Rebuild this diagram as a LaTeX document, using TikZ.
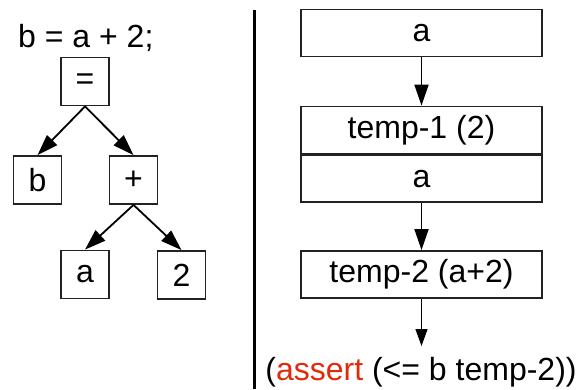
\documentclass[tikz,border=0pt]{standalone}
\usepackage{fontspec}
\setmainfont{Liberation Sans}
\usetikzlibrary{arrows.meta}
\definecolor{kwred}{HTML}{E02A0A}
\definecolor{edge}{HTML}{222222}
\tikzset{
  treebox/.style={draw=edge, line width=1.8pt, minimum width=48pt, minimum height=48pt, inner sep=0pt},
  flowbox/.style={draw=edge, line width=1.8pt, minimum width=241pt, minimum height=47pt, inner sep=0pt},
  link/.style={line width=1.8pt, -{Triangle[length=21pt,width=14pt]}},
  thinlink/.style={line width=1.2pt, -{Triangle[length=17pt,width=12pt]}},
}
\begin{document}
\begin{tikzpicture}[x=1pt, y=-1pt, font=\fontsize{32}{38}\selectfont]
\useasboundingbox (0,0) rectangle (576,389);

% expression tree
\node[anchor=base west, inner sep=0pt] (src) at (18,47) {b = a + 2;};
\node[treebox] (eq) at (85,81.5) {=};
\node[treebox] (b) at (37.5,180) {b};
\node[treebox] (plus) at (133.5,180) {+};
\node[treebox] (a) at (85,274.5) {a};
\node[treebox] (two) at (181.5,275) {2};
\draw[link] (eq.south) -- (b.north);
\draw[link] (eq.south) -- (plus.north);
\draw[link] (plus.south) -- (a.north);
\draw[link] (plus.south) -- (two.north);

% separator
\coordinate (sepTop) at (254,10);
\coordinate (sepBot) at (254,389);
\draw[line width=3pt] (sepTop) -- (sepBot);

% evaluation stack
\node[flowbox] (sa) at (421.5,33) {a};
\node[flowbox] (t1) at (421.5,130) {temp-1 (2)};
\node[flowbox, anchor=north] (sa2) at (t1.south) {a};
\node[flowbox] (t2) at (421.5,274.5) {temp-2 (a+2)};
\coordinate (end) at (421.5,346);
\node[anchor=base, inner sep=0pt] (assert) at (421,380) {(\textcolor{kwred}{assert} (<= b temp-2))};
\draw[link] (sa.south) -- (t1.north);
\draw[link] (sa2.south) -- (t2.north);
\draw[thinlink] (t2.south) -- (end);
\end{tikzpicture}
\end{document}
